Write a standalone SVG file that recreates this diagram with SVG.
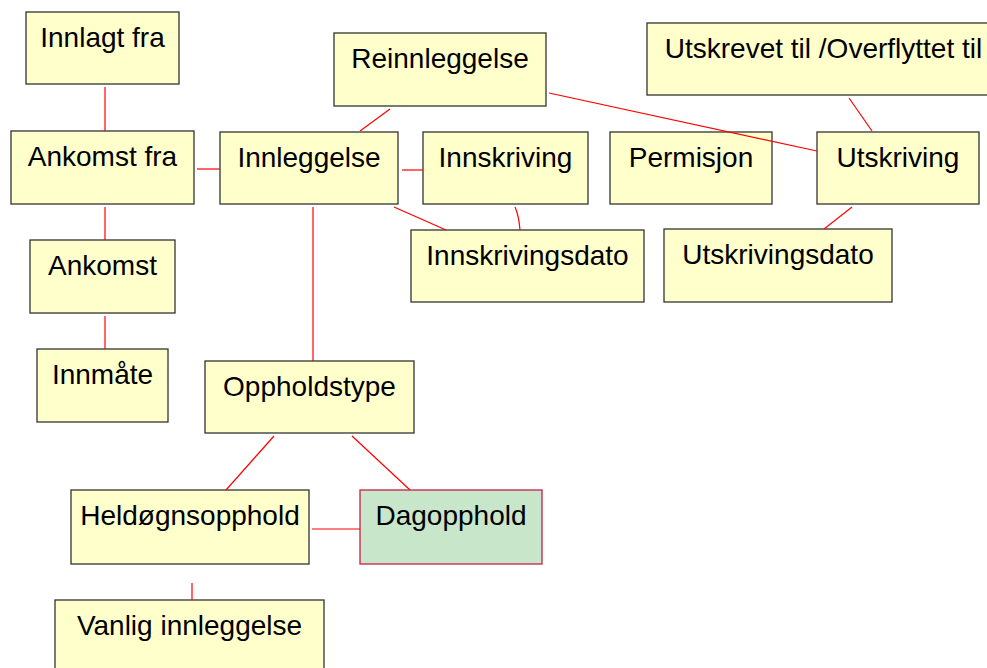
<svg xmlns="http://www.w3.org/2000/svg" width="987" height="668" viewBox="0 0 987 668">
<style>
.n rect{fill:#FFFFCC;stroke:#333333;stroke-width:1.3}
.n text{font-family:"Liberation Sans",Arial,sans-serif;font-size:28px;fill:#000;text-anchor:middle}
#dagopphold rect{fill:#C8E6C9;stroke:#C8204A}
.c line,.c path{stroke:#FF0000;stroke-width:1.2;fill:none}
</style>
<rect width="987" height="668" fill="#FFFFFF"/>
<g class="n" id="innlagt-fra"><rect x="26" y="12" width="153" height="72"/><text x="102.5" y="47">Innlagt fra</text></g>
<g class="n" id="ankomst-fra"><rect x="11" y="131" width="183" height="73"/><text x="102.5" y="166">Ankomst fra</text></g>
<g class="n" id="ankomst"><rect x="30" y="240" width="145" height="73"/><text x="102.5" y="275">Ankomst</text></g>
<g class="n" id="innmate"><rect x="37" y="349" width="131" height="73"/><text x="102.5" y="384">Innmåte</text></g>
<g class="n" id="innleggelse"><rect x="220" y="132" width="178" height="72"/><text x="309" y="167">Innleggelse</text></g>
<g class="n" id="reinnleggelse"><rect x="334" y="33" width="212" height="73"/><text x="440" y="68">Reinnleggelse</text></g>
<g class="n" id="innskriving"><rect x="423" y="132" width="165" height="72"/><text x="505.5" y="167">Innskriving</text></g>
<g class="n" id="innskrivingsdato"><rect x="411" y="230" width="233" height="72"/><text x="527.5" y="265">Innskrivingsdato</text></g>
<g class="n" id="permisjon"><rect x="610" y="132" width="162" height="72"/><text x="691" y="167">Permisjon</text></g>
<g class="n" id="utskriving"><rect x="817" y="132" width="162" height="72"/><text x="898" y="167">Utskriving</text></g>
<g class="n" id="utskrevet"><rect x="647" y="23" width="353" height="72"/><text x="823.5" y="58">Utskrevet til /Overflyttet til</text></g>
<g class="n" id="utskrivingsdato"><rect x="664" y="229" width="228" height="73"/><text x="778" y="264">Utskrivingsdato</text></g>
<g class="n" id="oppholdstype"><rect x="205" y="361" width="209" height="72"/><text x="309.5" y="396">Oppholdstype</text></g>
<g class="n" id="heldognsopphold"><rect x="71" y="490" width="238" height="74"/><text x="190" y="525">Heldøgnsopphold</text></g>
<g class="n" id="dagopphold"><rect x="360" y="490" width="182" height="74"/><text x="451" y="525">Dagopphold</text></g>
<g class="n" id="vanlig-innleggelse"><rect x="55" y="600" width="269" height="80"/><text x="189.5" y="635">Vanlig innleggelse</text></g>
<g class="c" id="connectors">
<line x1="105" y1="87" x2="105" y2="131"/>
<line x1="197" y1="169" x2="220" y2="169"/>
<line x1="105" y1="207" x2="105" y2="240"/>
<line x1="105" y1="316" x2="105" y2="349"/>
<line x1="360" y1="131" x2="390" y2="109"/>
<line x1="402" y1="170" x2="423" y2="170"/>
<line x1="394" y1="207" x2="446" y2="230"/>
<path d="M515 207 Q519 216 520 230"/>
<line x1="549" y1="93" x2="817" y2="151"/>
<line x1="849" y1="98" x2="872" y2="131"/>
<line x1="852" y1="207" x2="824" y2="229"/>
<line x1="313" y1="207" x2="313" y2="361"/>
<line x1="274" y1="436" x2="226" y2="490"/>
<line x1="352" y1="436" x2="410" y2="490"/>
<line x1="312" y1="529" x2="360" y2="529"/>
<line x1="192" y1="583" x2="192" y2="600"/>
</g>
</svg>
